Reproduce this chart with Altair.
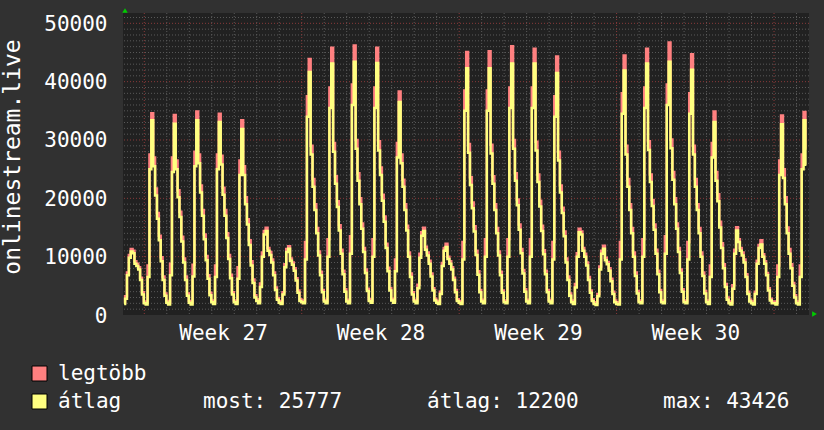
import altair as alt
import pandas as pd

# ---------------- data ----------------
# 2-hour consolidated samples, one list per calendar day (local time),
# sample centres at 00:30, 02:30, ... 22:30. First list is the partial Sunday
# before week 27 (from 02:30), last list the partial Tuesday of week 31.
avg_days = [
    [1900, 2800, 6800, 9800, 10900, 10600, 8800, 8400, 7800, 6000, 3500],
    [2000, 1800, 6500, 25000, 33400, 25500, 20500, 16500, 12800, 9200, 6000, 3300],
    [2100, 1800, 6800, 24500, 32800, 25000, 20200, 16800, 12600, 9000, 6000, 3300],
    [2100, 1800, 6600, 25500, 33400, 26000, 21000, 17000, 13000, 9400, 6200, 3400],
    [2200, 1900, 6500, 25000, 33100, 25800, 20600, 17000, 13200, 9600, 6300, 3500],
    [2200, 1900, 6200, 24000, 31900, 24000, 19000, 15500, 12000, 8500, 5500, 3000],
    [2400, 2000, 4800, 10000, 13800, 14400, 11000, 10300, 9000, 6800, 4300, 2600],
    [2100, 1900, 3500, 8200, 10800, 11350, 9300, 8600, 7600, 5900, 3800, 2400],
    [2200, 2000, 9500, 34000, 41650, 27500, 22000, 18000, 14000, 10200, 6800, 3900],
    [2300, 2000, 10000, 35500, 43100, 28000, 22500, 18500, 14500, 10500, 7000, 4000],
    [2300, 2000, 10500, 36000, 43426, 28500, 23000, 19000, 14800, 10800, 7200, 4100],
    [2400, 2100, 10000, 35500, 43200, 28200, 24000, 19600, 16000, 11500, 7500, 4200],
    [2500, 2100, 7500, 27000, 36500, 26000, 22000, 18000, 14500, 10000, 6500, 3500],
    [2300, 2000, 4600, 9800, 13600, 14400, 11200, 10200, 8800, 6600, 4200, 2500],
    [2100, 1900, 3600, 8400, 11000, 11650, 9600, 8800, 7800, 6000, 3900, 2400],
    [2100, 1900, 9500, 35000, 42300, 27800, 22300, 18300, 14300, 10300, 6900, 3900],
    [2300, 2000, 10000, 35000, 42300, 27700, 22500, 18000, 14000, 10200, 6800, 3800],
    [2200, 2000, 10000, 35500, 43100, 28500, 23000, 18800, 14600, 10600, 7100, 4000],
    [2300, 2000, 10000, 35500, 43100, 28200, 22800, 18600, 14400, 10400, 7000, 3900],
    [2300, 2000, 9500, 34000, 41500, 26500, 21000, 17500, 13500, 9000, 6000, 3300],
    [2200, 1900, 4700, 10000, 14200, 13800, 11000, 10000, 8500, 6000, 3800, 2400],
    [1900, 1700, 3200, 7800, 10500, 11350, 9400, 8700, 7600, 5800, 3600, 2200],
    [1900, 1800, 9500, 34500, 41900, 27500, 22000, 18000, 14000, 10000, 6700, 3700],
    [2200, 2000, 10000, 35500, 43100, 28300, 22800, 18700, 14600, 10500, 7000, 3900],
    [2200, 2000, 10500, 36000, 43400, 28600, 23200, 19000, 14800, 10800, 7200, 4000],
    [2200, 2000, 9500, 34500, 42050, 27500, 22000, 18000, 14000, 10000, 6700, 3700],
    [2200, 1900, 6500, 27000, 33100, 23000, 19500, 15000, 11500, 8000, 4800, 2600],
    [2000, 1800, 4500, 10500, 14500, 12500, 11000, 10200, 9000, 6500, 3600, 2300],
    [2000, 1800, 3600, 8800, 11500, 12100, 10000, 8800, 6800, 4200, 2500, 2000],
    [2000, 1800, 6500, 24000, 32700, 23500, 19000, 14000, 10500, 8000, 5000, 3000],
    [2000, 1800, 6500, 25000, 33400, 25777],
]
max_days = [
    [2100, 3200, 7300, 10300, 11300, 11000, 9200, 8800, 8200, 6400, 3900],
    [2300, 2100, 8500, 27500, 34600, 27000, 21700, 17500, 13600, 9900, 6600, 3700],
    [2400, 2100, 8800, 27000, 34300, 26500, 21400, 17700, 13400, 9700, 6600, 3700],
    [2400, 2100, 8600, 28000, 34900, 27500, 22200, 18000, 13800, 10100, 6800, 3800],
    [2500, 2200, 8500, 27500, 34500, 27300, 21800, 18000, 14000, 10300, 6900, 3900],
    [2500, 2200, 8200, 26500, 33400, 25500, 20200, 16400, 12800, 9200, 6100, 3400],
    [2700, 2300, 5400, 10700, 14400, 14950, 11500, 10800, 9500, 7300, 4700, 2900],
    [2400, 2100, 3900, 8700, 11300, 11800, 9700, 9000, 8000, 6300, 4200, 2700],
    [2500, 2300, 12500, 37500, 43900, 29000, 23300, 19000, 14900, 10900, 7400, 4300],
    [2600, 2300, 13000, 39000, 45800, 29500, 23800, 19500, 15400, 11200, 7600, 4400],
    [2600, 2300, 13500, 39500, 46200, 30000, 24300, 20000, 15700, 11500, 7800, 4500],
    [2700, 2400, 13000, 39000, 45800, 29800, 25300, 20600, 16900, 12200, 8100, 4600],
    [2800, 2400, 9500, 29500, 38300, 27500, 23200, 19000, 15300, 10700, 7100, 3900],
    [2600, 2300, 5200, 10500, 14200, 14950, 11700, 10700, 9300, 7100, 4600, 2800],
    [2400, 2200, 4000, 8900, 11500, 12200, 10000, 9200, 8200, 6400, 4300, 2700],
    [2400, 2200, 12500, 38500, 45100, 29300, 23600, 19300, 15200, 11000, 7500, 4300],
    [2600, 2300, 13000, 38500, 45200, 29200, 23800, 19000, 14900, 10900, 7400, 4200],
    [2500, 2300, 13000, 39000, 46050, 30000, 24300, 19800, 15500, 11300, 7700, 4400],
    [2600, 2300, 13000, 39000, 45650, 29700, 24100, 19600, 15300, 11100, 7600, 4300],
    [2600, 2300, 12500, 37500, 44300, 28000, 22200, 18400, 14300, 9700, 6600, 3700],
    [2500, 2200, 5300, 10600, 14800, 14300, 11500, 10500, 9000, 6500, 4200, 2700],
    [2200, 2000, 3600, 8300, 11000, 11850, 9800, 9100, 8000, 6200, 4000, 2500],
    [2200, 2100, 12500, 38000, 44500, 29000, 23300, 19000, 14900, 10700, 7300, 4100],
    [2500, 2300, 13000, 39000, 45650, 29800, 24100, 19700, 15500, 11200, 7600, 4300],
    [2500, 2300, 13500, 39500, 46700, 30100, 24500, 20000, 15700, 11500, 7800, 4400],
    [2500, 2300, 12500, 38000, 44700, 29000, 23300, 19000, 14900, 10700, 7300, 4100],
    [2500, 2200, 8500, 29500, 34900, 24500, 20700, 16000, 12300, 8700, 5300, 3000],
    [2300, 2100, 5100, 11200, 15050, 13000, 11500, 10700, 9500, 7000, 4000, 2600],
    [2300, 2100, 4000, 9300, 12000, 12800, 10400, 9200, 7200, 4600, 2800, 2300],
    [2300, 2100, 8500, 26500, 34200, 25000, 20200, 15000, 11300, 8700, 5500, 3400],
    [2300, 2100, 8500, 27500, 34800, 28500],
]
first_sample_hour = -21.5      # hours relative to Monday 00:00 of week 27
sample_step_hours = 2

week_names = ["Week 27", "Week 28", "Week 29", "Week 30"]
week_label_hours = [84, 252, 420, 588]          # middle of each week
week_line_hours = [0, 168, 336, 504, 672]
day_line_hours = [h for h in range(24, 709, 24) if h % 168]
y_tick_values = [0, 10000, 20000, 30000, 40000, 50000]
y_minor_values = [v for v in range(1000, 52000, 1000) if v % 10000]
y_major_values = [10000, 20000, 30000, 40000, 50000]

legend_names = ["legtöbb", "átlag"]
legend_colors = ["#ff8080", "#ffff80"]
stat_labels = ["most:", "átlag:", "max:"]
stat_values = [25777, 12200, 43426]
y_title = "onlinestream.live"

# ---------------- build table ----------------
avg = [v for d in avg_days for v in d]
mx = [v for d in max_days for v in d]
t = [first_sample_hour + sample_step_hours * i for i in range(len(avg))]
df = pd.DataFrame({"t": t, "avg": avg, "max": mx})

FONT = "DejaVu Sans Mono"
FS = 21
W, H = 686, 302
xs = alt.Scale(domain=[-22.73, 709.3], nice=False, zero=False)
ys = alt.Scale(domain=[0, 51770], nice=False, zero=False)

label_expr = " : ".join(
    f"datum.value == {h} ? '{n}'" for h, n in zip(week_label_hours, week_names)
) + " : ''"

x_axis = alt.Axis(
    values=week_label_hours, labelExpr=label_expr, title=None, grid=False,
    ticks=False, domain=False, labelFont=FONT, labelFontSize=FS,
    labelColor="#ffffff", labelPadding=24, labelBaseline="alphabetic",
    labelAngle=0, labelFlush=False, labelOverlap=False,
)
y_axis = alt.Axis(
    values=y_tick_values, format="d", title=None, grid=False, ticks=False,
    domain=False, labelFont=FONT, labelFontSize=FS, labelColor="#ffffff",
    labelPadding=16, labelBaseline="middle", labelOffset=1,
    labelFlush=False, labelOverlap=False,
)

grid_grey = "#5a5a5a"
grid_red = "#8a3a3a"

y_minor = alt.Chart(pd.DataFrame({"v": y_minor_values})).mark_rule(
    color=grid_grey, strokeWidth=1, strokeDash=[1, 2]
).encode(y=alt.Y("v:Q", scale=ys, axis=y_axis))

x_days = alt.Chart(pd.DataFrame({"h": day_line_hours})).mark_rule(
    color=grid_grey, strokeWidth=1, strokeDash=[1, 2]
).encode(x=alt.X("h:Q", scale=xs, axis=x_axis))

y_major = alt.Chart(pd.DataFrame({"v": y_major_values})).mark_rule(
    color=grid_red, strokeWidth=1, strokeDash=[1, 2]
).encode(y=alt.Y("v:Q", scale=ys, axis=y_axis))

x_weeks = alt.Chart(pd.DataFrame({"h": week_line_hours})).mark_rule(
    color=grid_red, strokeWidth=1, strokeDash=[1, 2]
).encode(x=alt.X("h:Q", scale=xs, axis=x_axis))

max_line = alt.Chart(df).mark_line(
    interpolate="step", color=legend_colors[0], strokeWidth=2.5
).encode(
    x=alt.X("t:Q", scale=xs, axis=x_axis),
    y=alt.Y("max:Q", scale=ys, axis=y_axis),
)

avg_line = alt.Chart(df).mark_line(
    interpolate="step", color=legend_colors[1], strokeWidth=2.5
).encode(
    x=alt.X("t:Q", scale=xs, axis=x_axis),
    y=alt.Y("avg:Q", scale=ys, axis=y_axis),
)

layers = [y_minor, x_days, y_major, x_weeks, max_line, avg_line]

# legend swatches and texts (positioned in pixels relative to the plot area)
for i, (name, col) in enumerate(zip(legend_names, legend_colors)):
    y0 = 353 + 28 * i
    layers.append(
        alt.Chart(pd.DataFrame({"s": [name]})).mark_rect(
            color=col, stroke="#000000", strokeWidth=1
        ).encode(x=alt.value(-91), x2=alt.value(-76), y=alt.value(y0), y2=alt.value(y0 + 15))
    )
    layers.append(
        alt.Chart(pd.DataFrame({"s": [name]})).mark_text(
            font=FONT, fontSize=FS, color="#ffffff", align="left", baseline="alphabetic"
        ).encode(x=alt.value(-65), y=alt.value(367 + 28 * i), text="s:N")
    )

stat_x = [80, 304, 540]
for lab, val, xp in zip(stat_labels, stat_values, stat_x):
    layers.append(
        alt.Chart(pd.DataFrame({"s": [f"{lab} {val}"]})).mark_text(
            font=FONT, fontSize=FS, color="#ffffff", align="left", baseline="alphabetic"
        ).encode(x=alt.value(xp), y=alt.value(395), text="s:N")
    )

layers.append(
    alt.Chart(pd.DataFrame({"s": [y_title]})).mark_text(
        font=FONT, fontSize=23, color="#ffffff", align="center", baseline="middle", angle=270
    ).encode(x=alt.value(-110), y=alt.value(144), text="s:N")
)

# green arrow heads at the axis ends
layers.append(
    alt.Chart(pd.DataFrame({"s": ["up"]})).mark_point(
        shape="triangle-up", filled=True, size=30, color="#00cc00", opacity=1
    ).encode(x=alt.value(2), y=alt.value(-2.5))
)
layers.append(
    alt.Chart(pd.DataFrame({"s": ["right"]})).mark_point(
        shape="triangle-right", filled=True, size=30, color="#00cc00", opacity=1
    ).encode(x=alt.value(691.5), y=alt.value(301))
)

chart = alt.layer(*layers).properties(
    width=W, height=H,
    autosize=alt.AutoSizeParams(type="none"),
    padding={"left": 123, "top": 13, "right": 15, "bottom": 115},
    background="#313131",
).configure_view(fill="#212121", stroke=None)

chart.save("out.html", embed_options={"renderer": "svg", "actions": False})
